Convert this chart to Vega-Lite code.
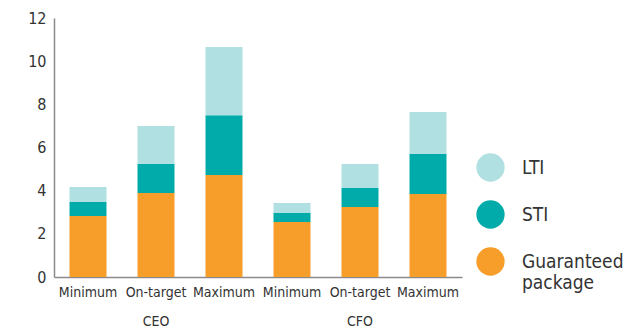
{
  "$schema": "https://vega.github.io/schema/vega-lite/v6.json",
  "width": 408,
  "height": 259,
  "padding": {"left": 27, "top": 10, "right": 5, "bottom": 5},
  "background": "white",
  "config": {"view": {"stroke": null}, "font": "DejaVu Sans Condensed"},
  "data": {"values": [
    {"bar": "CEO/Minimum", "component": "Guaranteed package", "value": 2.83},
    {"bar": "CEO/Minimum", "component": "STI", "value": 0.65},
    {"bar": "CEO/Minimum", "component": "LTI", "value": 0.69},
    {"bar": "CEO/On-target", "component": "Guaranteed package", "value": 3.89},
    {"bar": "CEO/On-target", "component": "STI", "value": 1.35},
    {"bar": "CEO/On-target", "component": "LTI", "value": 1.76},
    {"bar": "CEO/Maximum", "component": "Guaranteed package", "value": 4.73},
    {"bar": "CEO/Maximum", "component": "STI", "value": 2.77},
    {"bar": "CEO/Maximum", "component": "LTI", "value": 3.16},
    {"bar": "CFO/Minimum", "component": "Guaranteed package", "value": 2.55},
    {"bar": "CFO/Minimum", "component": "STI", "value": 0.42},
    {"bar": "CFO/Minimum", "component": "LTI", "value": 0.46},
    {"bar": "CFO/On-target", "component": "Guaranteed package", "value": 3.24},
    {"bar": "CFO/On-target", "component": "STI", "value": 0.88},
    {"bar": "CFO/On-target", "component": "LTI", "value": 1.12},
    {"bar": "CFO/Maximum", "component": "Guaranteed package", "value": 3.85},
    {"bar": "CFO/Maximum", "component": "STI", "value": 1.85},
    {"bar": "CFO/Maximum", "component": "LTI", "value": 1.95}
  ]},
  "transform": [
    {"calculate": "indexof(['Guaranteed package','STI','LTI'], datum.component)", "as": "stackOrder"}
  ],
  "mark": {"type": "bar"},
  "encoding": {
    "x": {
      "field": "bar", "type": "nominal", "sort": null,
      "scale": {"paddingInner": 0.456, "paddingOuter": 0.228},
      "axis": {
        "title": null, "labelAngle": 0, "ticks": false,
        "domainColor": "#8a8a8a", "domainWidth": 1.5,
        "labelFontSize": 14, "labelColor": "#333333", "labelPadding": 8,
        "labelLineHeight": 29,
        "labelExpr": "indexof(datum.value,'On-target')>=0 ? [split(datum.value,'/')[1], split(datum.value,'/')[0]] : split(datum.value,'/')[1]"
      }
    },
    "y": {
      "field": "value", "type": "quantitative", "stack": "zero",
      "scale": {"domain": [0, 12]},
      "axis": {
        "title": null, "values": [0, 2, 4, 6, 8, 10, 12], "grid": false, "ticks": false,
        "domainColor": "#8a8a8a", "domainWidth": 1.5,
        "labelFontSize": 16, "labelColor": "#333333", "labelPadding": 8
      }
    },
    "color": {
      "field": "component", "type": "nominal",
      "scale": {"domain": ["LTI", "STI", "Guaranteed package"], "range": ["#b0e0e2", "#00abaa", "#f79d2a"]},
      "legend": {
        "title": null, "orient": "none", "legendX": 422, "legendY": 135,
        "symbolType": "circle", "symbolSize": 800, "symbolStrokeWidth": 0, "symbolOpacity": 1,
        "labelFontSize": 19, "labelColor": "#333333", "labelOffset": 17,
        "rowPadding": 18,
        "labelExpr": "datum.label == 'Guaranteed package' ? ['Guaranteed','package'] : datum.label"
      }
    },
    "order": {"field": "stackOrder", "type": "quantitative"}
  }
}
